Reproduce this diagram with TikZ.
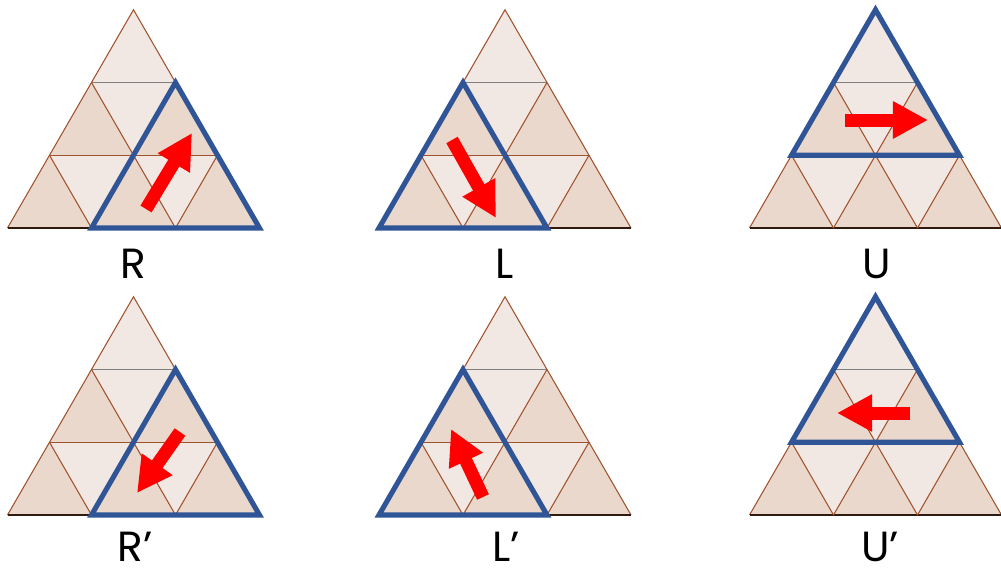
\documentclass[tikz,border=0pt]{standalone}
\usepackage{fontspec}
\setmainfont{Poppins}
\usetikzlibrary{arrows.meta}

\definecolor{tanlight}{HTML}{F2E8E3}
\definecolor{tandark}{HTML}{EBD8CC}
\definecolor{edgebrown}{HTML}{A0522D}
\definecolor{frameblue}{HTML}{2F5597}

\begin{document}
\begin{tikzpicture}[x=0.02cm,y=-0.02cm,
    edge/.style={draw=edgebrown,line width=0.6pt},
    frame/.style={draw=frameblue,line width=2.9pt},
    move/.style={draw=red,line width=7.4pt,-{Triangle[length=20pt,width=20pt]}},
    movename/.style={font=\fontsize{24}{28}\selectfont,inner sep=0pt,anchor=base}]

\useasboundingbox (0,0) rectangle (1001,572);

% the six pyramids
\foreach \cx/\by in {133.5/228,505/228,875.5/228,133.5/515,505/515,875.5/515}{
  \begin{scope}[shift={(\cx,\by)}]
    \fill[tanlight] (-126,0) -- (126,0) -- (0,-218.25) -- cycle;
    \foreach \i in {0,1,2}
      \fill[tandark] (-126+84*\i,0) -- ++(84,0) -- ++(-42,-72.75) -- cycle;
    \foreach \i in {0,1}
      \fill[tandark] (-84+84*\i,-72.75) -- ++(84,0) -- ++(-42,-72.75) -- cycle;
    \draw[edge] (-126,0) -- (0,-218.25) -- (126,0);
    \draw[edge,draw=black!70!edgebrown] (-126,0) -- (126,0);
    \draw[edge] (-84,-72.75) -- (84,-72.75);
    \draw[edge,draw=gray] (-42,-145.5) -- (42,-145.5);
    \draw[edge] (-42,0) -- (42,-145.5);
    \draw[edge] (42,0) -- (84,-72.75);
    \draw[edge] (42,0) -- (-42,-145.5);
    \draw[edge] (-42,0) -- (-84,-72.75);
  \end{scope}
}

% turned parts
\foreach \by in {228,515}{
  \draw[frame,shift={(133.5,\by)}] (-42,0) -- (126,0) -- (42,-145.5) -- cycle;
  \draw[frame,shift={(505,\by)}] (-126,0) -- (42,0) -- (-42,-145.5) -- cycle;
  \draw[frame,shift={(875.5,\by)}] (-84,-72.75) -- (84,-72.75) -- (0,-218.25) -- cycle;
}

% arrows
\draw[move] (146,209) -- (192,133);
\draw[move] (452,140) -- (496,218);
\draw[move] (845,120) -- (928,120);
\draw[move] (180,432) -- (137,493);
\draw[move] (483,497) -- (451,429);
\draw[move] (910,413) -- (837,413);

% move names
\node[movename] (labR) at (133,278) {R};
\node[movename] (labL) at (505,278) {L};
\node[movename] (labU) at (877,278) {U};
\node[movename] (labRp) at (135,561) {R’};
\node[movename] (labLp) at (506,561) {L’};
\node[movename] (labUp) at (880,561) {U’};
\end{tikzpicture}
\end{document}
